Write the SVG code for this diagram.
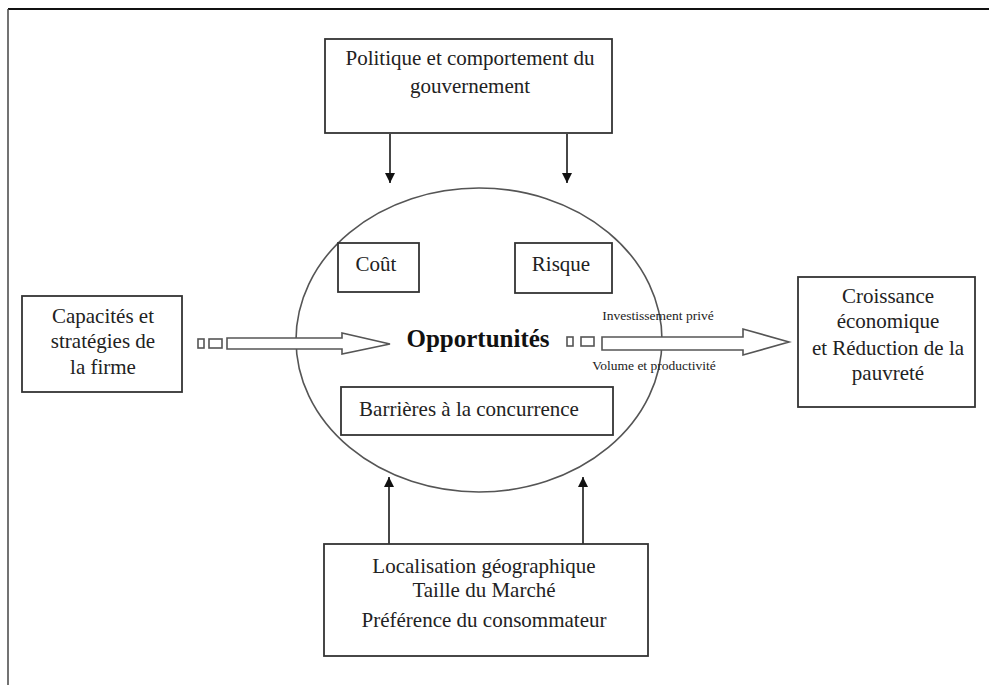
<svg xmlns="http://www.w3.org/2000/svg" width="989" height="685" viewBox="0 0 989 685">
<defs>
<style>
.box{fill:#fff;stroke:#333;stroke-width:1.8}
.t{font-family:"Liberation Serif","Times New Roman",serif;font-size:21px;fill:#222;text-anchor:middle}
.s{font-family:"Liberation Serif","Times New Roman",serif;font-size:13.5px;fill:#222;text-anchor:middle}
.ln{stroke:#333;stroke-width:1.8;fill:none}
.ha{fill:#fff;stroke:#555;stroke-width:1.6}
</style>
<marker id="ah" viewBox="0 0 10 10" refX="10" refY="5" markerWidth="10" markerHeight="10" markerUnits="userSpaceOnUse" orient="auto">
<path d="M0,0 L10,5 L0,10 z" fill="#111"/>
</marker>
</defs>
<rect width="989" height="685" fill="#fff"/>
<g id="frame">
<line x1="8" y1="9" x2="989" y2="9" stroke="#111" stroke-width="2"/>
<line x1="8" y1="9" x2="8" y2="685" stroke="#444" stroke-width="1.5"/>
</g>
<g id="opportunites">
<ellipse cx="479" cy="340" rx="183" ry="152" fill="none" stroke="#555" stroke-width="1.6"/>
<text x="478" y="347" font-family="Liberation Serif, Times New Roman, serif" font-size="25" font-weight="bold" text-anchor="middle" fill="#111">Opportunités</text>
</g>
<g id="politique">
<rect class="box" x="325" y="39" width="287" height="94"/>
<text class="t" x="470" y="65">Politique et comportement du</text>
<text class="t" x="470" y="93">gouvernement</text>
</g>
<g id="cout">
<rect class="box" x="338" y="243" width="81" height="49"/>
<text class="t" x="376" y="271">Coût</text>
</g>
<g id="risque">
<rect class="box" x="515" y="243" width="97" height="50"/>
<text class="t" x="561" y="271">Risque</text>
</g>
<g id="barrieres">
<rect class="box" x="341" y="387" width="272" height="48"/>
<text class="t" x="469" y="416">Barrières à la concurrence</text>
</g>
<g id="capacites">
<rect class="box" x="22" y="296" width="160" height="96"/>
<text class="t" x="103" y="323">Capacités et</text>
<text class="t" x="103" y="348">stratégies de</text>
<text class="t" x="103" y="374">la firme</text>
</g>
<g id="croissance">
<rect class="box" x="798" y="277" width="177" height="130"/>
<text class="t" x="888" y="303">Croissance</text>
<text class="t" x="888" y="328">économique</text>
<text class="t" x="888" y="355">et Réduction de la</text>
<text class="t" x="888" y="380">pauvreté</text>
</g>
<g id="localisation">
<rect class="box" x="324" y="544" width="324" height="112"/>
<text class="t" x="484" y="573">Localisation géographique</text>
<text class="t" x="484" y="597">Taille du Marché</text>
<text class="t" x="484" y="627">Préférence du consommateur</text>
</g>
<g id="connectors">
<line class="ln" x1="390" y1="134" x2="390" y2="183" marker-end="url(#ah)"/>
<line class="ln" x1="567" y1="134" x2="567" y2="183" marker-end="url(#ah)"/>
<line class="ln" x1="389" y1="544" x2="389" y2="477" marker-end="url(#ah)"/>
<line class="ln" x1="583" y1="544" x2="583" y2="477" marker-end="url(#ah)"/>
<rect class="ha" x="198" y="339" width="6" height="9"/>
<rect class="ha" x="209" y="339" width="13" height="9"/>
<polygon class="ha" points="227,338 342,338 342,333 390,344 342,354 342,349 227,349"/>
<rect class="ha" x="567" y="337" width="6" height="9"/>
<rect class="ha" x="581" y="337" width="13" height="9"/>
<polygon class="ha" points="602,337 743,337 743,329 789,342 743,355 743,350 602,350"/>
<text class="s" x="658" y="320">Investissement privé</text>
<text class="s" x="654" y="370">Volume et productivité</text>
</g>
</svg>
